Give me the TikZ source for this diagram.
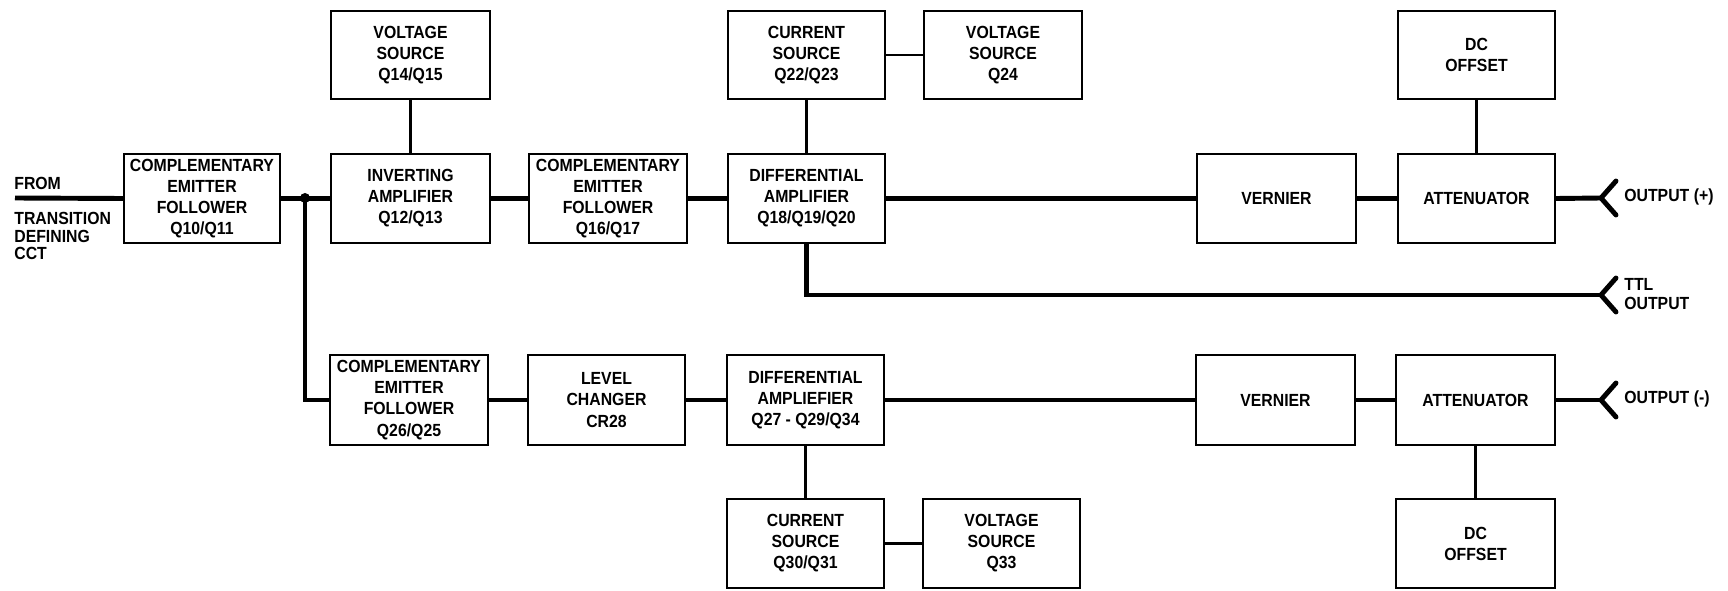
\documentclass[tikz,border=0pt]{standalone}
\usepackage{fontspec}
\newfontfamily\lblfont{Liberation Sans}[FakeStretch=0.9]
\newcommand\mkblk[6]{%
  \pgfmathsetmacro\bxcx{(#2+#4)/2}%
  \pgfmathsetmacro\bxcy{(#3+#5)/2}%
  \pgfmathsetmacro\bxww{(#4-#2)*0.02}%
  \pgfmathsetmacro\bxhh{(#5-#3)*0.02}%
  \node[blk, minimum width=\bxww cm, minimum height=\bxhh cm] (#1) at (\bxcx,\bxcy) {#6};}
\begin{document}
\begin{tikzpicture}[x=0.02cm, y=-0.02cm,
  blk/.style={draw, line width=1.3pt, inner sep=0pt, align=center,
    font=\lblfont\bfseries\fontsize{10}{12}\selectfont},
  lbl/.style={inner sep=0pt, align=left, font=\lblfont\bfseries\fontsize{10}{10}\selectfont},
  wire/.style={line width=2.8pt},
  link/.style={line width=1.7pt},
  fork/.style={line width=2.8pt, line cap=round, line join=round}]
\path[use as bounding box] (0,0) rectangle (1728,591);

% upper row
\mkblk{cefa}{124}{154}{280}{243}{\fontsize{10}{10.5}\selectfont COMPLEMENTARY\\EMITTER\\FOLLOWER\\Q10/Q11}
\mkblk{inv}{331}{154}{490}{243}{INVERTING\\AMPLIFIER\\Q12/Q13}
\mkblk{cefb}{529}{154}{687}{243}{\fontsize{10}{10.5}\selectfont COMPLEMENTARY\\EMITTER\\FOLLOWER\\Q16/Q17}
\mkblk{difa}{728}{154}{885}{243}{DIFFERENTIAL\\AMPLIFIER\\Q18/Q19/Q20}
\mkblk{vera}{1197}{154}{1356}{243}{VERNIER}
\mkblk{atta}{1398}{154}{1555}{243}{ATTENUATOR}
% top row
\mkblk{vsa}{331}{11}{490}{99}{VOLTAGE\\SOURCE\\Q14/Q15}
\mkblk{csa}{728}{11}{885}{99}{CURRENT\\SOURCE\\Q22/Q23}
\mkblk{vsb}{924}{11}{1082}{99}{VOLTAGE\\SOURCE\\Q24}
\mkblk{dca}{1398}{11}{1555}{99}{DC\\OFFSET}
% lower row
\mkblk{cefc}{330}{355}{488}{445}{\fontsize{10}{10.5}\selectfont COMPLEMENTARY\\EMITTER\\FOLLOWER\\Q26/Q25}
\mkblk{lvl}{528}{355}{685}{445}{LEVEL\\CHANGER\\CR28}
\mkblk{difb}{727}{355}{884}{445}{DIFFERENTIAL\\AMPLIEFIER\\Q27 - Q29/Q34}
\mkblk{verb}{1196}{355}{1355}{445}{VERNIER}
\mkblk{attb}{1396}{355}{1555}{445}{ATTENUATOR}
% bottom row
\mkblk{csb}{727}{499}{884}{588}{CURRENT\\SOURCE\\Q30/Q31}
\mkblk{vsc}{923}{499}{1080}{588}{VOLTAGE\\SOURCE\\Q33}
\mkblk{dcb}{1396}{499}{1555}{588}{DC\\OFFSET}

% labels
\node[lbl, anchor=west] (from) at (14,183) {FROM};
\node[lbl, anchor=west] (tdc) at (14,236) {TRANSITION\\DEFINING\\CCT};
\node[lbl, anchor=west] (outp) at (1624,197) {OUTPUT (+)};
\node[lbl, anchor=west, font=\lblfont\bfseries\fontsize{10}{11}\selectfont] (ttlo) at (1624,294) {TTL\\OUTPUT};
\node[lbl, anchor=west] (outm) at (1624,399) {OUTPUT (-)};

% coordinates
\coordinate (fin) at (15,198);
\coordinate (j) at (305,198);
\coordinate (oa) at (1601,198);
\coordinate (ot) at (1601,295);
\coordinate (ob) at (1601,400);

% upper signal path
\draw[wire] (fin) -- (cefa.west);
\draw[wire] (cefa.east) -- (inv.west);
\draw[wire] (inv.east) -- (cefb.west);
\draw[wire] (cefb.east) -- (difa.west);
\draw[wire] (difa.east) -- (vera.west);
\draw[wire] (vera.east) -- (atta.west);
\draw[wire] (atta.east) -- (oa);
\fill (j) circle[radius=5];
\draw[wire] (j) |- (cefc.west);
\draw[wire] (difa.south) |- (ot);
% lower signal path
\draw[wire] (cefc.east) -- (lvl.west);
\draw[wire] (lvl.east) -- (difb.west);
\draw[wire] (difb.east) -- (verb.west);
\draw[wire] (verb.east) -- (attb.west);
\draw[wire] (attb.east) -- (ob);
% side links
\draw[link] (vsa.south) -- (inv.north);
\draw[link] (csa.south) -- (difa.north);
\draw[link] (csa.east) -- (vsb.west);
\draw[link] (dca.south) -- (atta.north);
\draw[link] (difb.south) -- (csb.north);
\draw[link] (csb.east) -- (vsc.west);
\draw[link] (attb.south) -- (dcb.north);
% output forks
\foreach \o in {oa,ot,ob}{
  \draw[fork] (\o) ++(15,-17) -- (\o) -- ++(15,17);
}
\end{tikzpicture}
\end{document}
